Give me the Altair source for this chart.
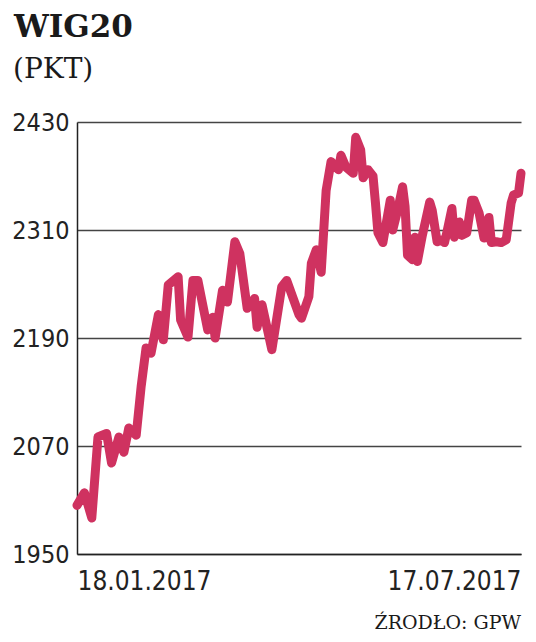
import altair as alt
import pandas as pd

# Days since 18.01.2017 and WIG20 closing values (pkt)
days = [0, 3, 6, 8.5, 12, 14, 17, 19, 21, 24, 26, 28, 30, 33, 35, 37, 41, 42, 45, 47,
        49, 53, 55, 56, 59, 61, 64, 66, 69, 72, 73, 75, 79, 83, 85, 90, 91, 94, 95, 97,
        99, 101, 103, 106, 107, 109, 112, 113, 115, 116, 118, 120, 121, 122, 124, 127, 128, 130, 132, 133,
        134, 136, 137, 138, 140, 143, 144, 146, 148, 149, 150, 152, 153, 155, 156, 158, 160, 161, 163, 165,
        167, 168, 170, 172, 174, 176, 177, 179, 180]
values = [2004, 2018, 1990, 2080, 2084, 2051, 2080, 2063, 2090, 2082, 2136, 2179, 2173, 2216, 2188, 2249, 2258, 2210, 2191, 2254,
          2254, 2199, 2213, 2190, 2243, 2230, 2297, 2284, 2223, 2234, 2202, 2227, 2177, 2247, 2254, 2216, 2212, 2236, 2273, 2288,
          2263, 2354, 2386, 2377, 2393, 2380, 2373, 2413, 2399, 2368, 2377, 2370, 2340, 2307, 2296, 2343, 2310, 2332, 2358, 2336,
          2282, 2277, 2302, 2275, 2304, 2341, 2332, 2297, 2299, 2296, 2308, 2334, 2302, 2319, 2304, 2307, 2343, 2343, 2329, 2301,
          2324, 2296, 2297, 2296, 2299, 2340, 2349, 2351, 2373]

y_ticks = [1950, 2070, 2190, 2310, 2430]
x_ticks = [0, 180]
x_labels = ["18.01.2017", "17.07.2017"]

title_text = ["WIG20"]
unit_text = ["(PKT)"]
source_text = ["ŹRODŁO: GPW"]

W, H = 444, 432
LINE_COLOR = "#cf3260"
LABEL_FONT = "DejaVu Sans Condensed, sans-serif"
SERIF = "DejaVu Serif"

df = pd.DataFrame({"day": days, "value": values})

label_expr = f"datum.value == {x_ticks[0]} ? '{x_labels[0]}' : '{x_labels[1]}'"

line = alt.Chart(df).mark_line(
    color=LINE_COLOR, strokeWidth=9, strokeJoin="round", strokeCap="round"
).encode(
    x=alt.X("day:Q",
            scale=alt.Scale(domain=[x_ticks[0], x_ticks[1]], nice=False, zero=False),
            axis=alt.Axis(values=x_ticks, labelExpr=label_expr, title=None, grid=False,
                          ticks=False, labelFlush=True, labelFontSize=26, labelFont=LABEL_FONT,
                          labelColor="#222222", labelPadding=14, domainColor="#222222",
                          domainWidth=1.5)),
    y=alt.Y("value:Q",
            scale=alt.Scale(domain=[y_ticks[0], y_ticks[-1]], nice=False, zero=False),
            axis=alt.Axis(values=y_ticks, title=None, grid=True, gridColor="#444444",
                          gridWidth=1.5, ticks=False, labelFontSize=25, labelFont=LABEL_FONT,
                          labelColor="#222222", labelPadding=8, domainColor="#222222",
                          domainWidth=1.5, format="d")),
)

title = alt.Chart(pd.DataFrame({"t": title_text})).mark_text(
    align="left", baseline="alphabetic", font=SERIF, fontWeight="bold", fontSize=31, color="#1a1a1a"
).encode(x=alt.value(-63), y=alt.value(-85), text="t:N")

unit = alt.Chart(pd.DataFrame({"t": unit_text})).mark_text(
    align="left", baseline="alphabetic", font=SERIF, fontSize=28, color="#1a1a1a"
).encode(x=alt.value(-64), y=alt.value(-44), text="t:N")

source = alt.Chart(pd.DataFrame({"t": source_text})).mark_text(
    align="right", baseline="alphabetic", font=SERIF, fontSize=19, color="#1a1a1a"
).encode(x=alt.value(W), y=alt.value(507), text="t:N")

chart = alt.layer(line, title, unit, source).properties(
    width=W, height=H,
    padding={"left": 69, "top": 114, "right": 7, "bottom": 80},
    autosize=alt.AutoSizeParams(type="none"),
    background="white",
).configure_view(stroke=None)

chart.save("out.html", embed_options={"renderer": "svg", "actions": False})
